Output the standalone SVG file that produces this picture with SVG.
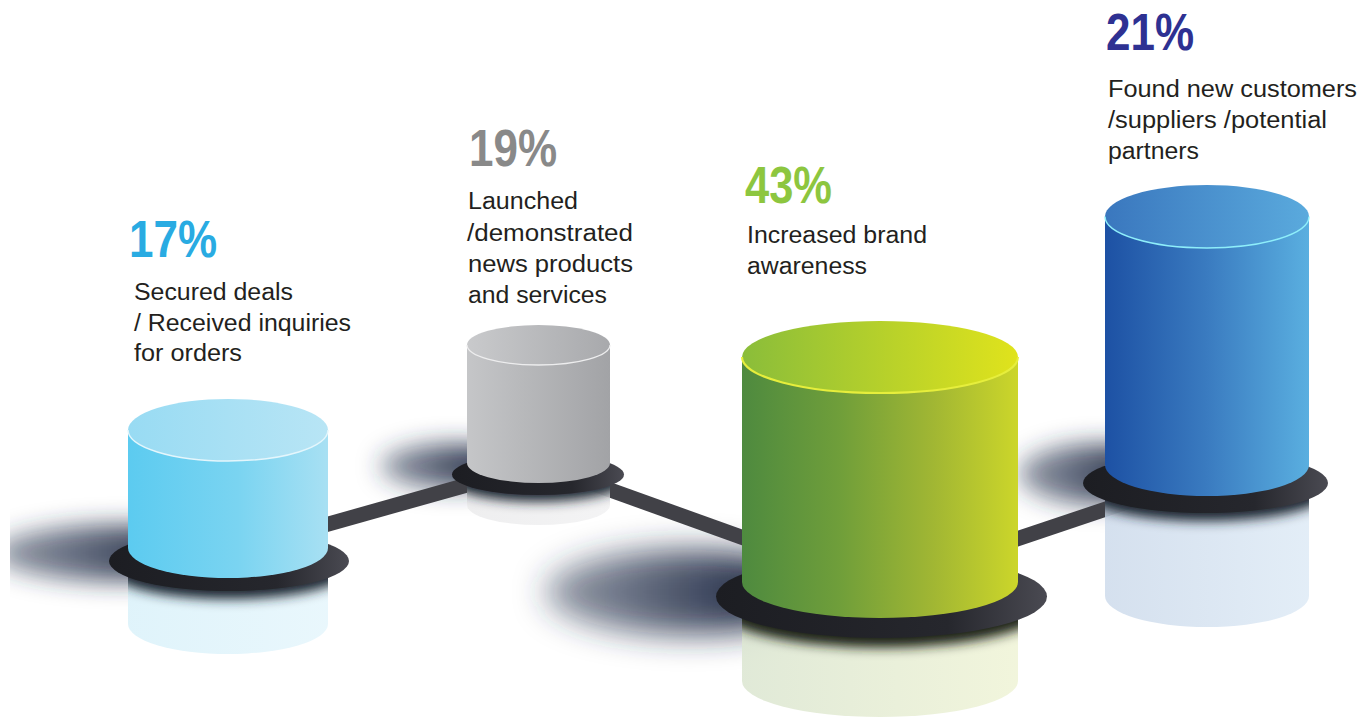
<svg xmlns="http://www.w3.org/2000/svg" width="1363" height="718" viewBox="0 0 1363 718">
<style>
.pct{font-family:"Liberation Sans",Arial,sans-serif;font-weight:bold;font-size:51px}
.lbl{font-family:"Liberation Sans",Arial,sans-serif;font-size:23.5px;fill:#231f20}
.conn{stroke:#414147;stroke-width:15;stroke-linecap:butt;fill:none}
.shadow{fill:url(#shGrad)}
</style>
<defs>
<filter id="blur12" x="-60%" y="-150%" width="220%" height="400%"><feGaussianBlur stdDeviation="12"/></filter>
<filter id="blur16" x="-60%" y="-150%" width="220%" height="400%"><feGaussianBlur stdDeviation="16"/></filter>
<filter id="blur6" x="-30%" y="-100%" width="160%" height="300%"><feGaussianBlur stdDeviation="6"/></filter>
<linearGradient id="shGrad" x1="0" y1="0" x2="1" y2="0">
<stop offset="0" stop-color="#2a3550" stop-opacity="0.5"/>
<stop offset="0.7" stop-color="#1f2942" stop-opacity="0.92"/>
<stop offset="1" stop-color="#1a2238" stop-opacity="1"/>
</linearGradient>
<linearGradient id="baseGrad" x1="0" y1="0" x2="1" y2="0">
<stop offset="0" stop-color="#1c1d22"/>
<stop offset="0.7" stop-color="#26272d"/>
<stop offset="1" stop-color="#4a4a52"/>
</linearGradient>
<linearGradient id="cyBody" x1="0" y1="0" x2="1" y2="0">
<stop offset="0" stop-color="#5ccbf0"/><stop offset="0.55" stop-color="#7ad4f1"/><stop offset="1" stop-color="#a8e0f3"/>
</linearGradient>
<linearGradient id="cyTop" x1="0" y1="0" x2="1" y2="0">
<stop offset="0" stop-color="#98dbf3"/><stop offset="1" stop-color="#b8e5f5"/>
</linearGradient>
<linearGradient id="cyRef" x1="0" y1="0" x2="1" y2="0">
<stop offset="0" stop-color="#dbf2fa"/><stop offset="1" stop-color="#e6f6fc"/>
</linearGradient>
<linearGradient id="grBody" x1="0" y1="0" x2="1" y2="0">
<stop offset="0" stop-color="#c5c6c8"/><stop offset="1" stop-color="#a2a3a6"/>
</linearGradient>
<linearGradient id="grTop" x1="0" y1="0" x2="1" y2="0">
<stop offset="0" stop-color="#c9cacc"/><stop offset="1" stop-color="#a8a9ac"/>
</linearGradient>
<linearGradient id="grRef" x1="0" y1="0" x2="1" y2="0">
<stop offset="0" stop-color="#ececed"/><stop offset="1" stop-color="#f2f2f3"/>
</linearGradient>
<linearGradient id="gnBody" x1="0" y1="0" x2="1" y2="0">
<stop offset="0" stop-color="#4e8a3f"/><stop offset="0.35" stop-color="#6f9e3a"/><stop offset="0.7" stop-color="#a2b733"/><stop offset="1" stop-color="#ccd62a"/>
</linearGradient>
<linearGradient id="gnTop" x1="0" y1="0" x2="1" y2="0">
<stop offset="0" stop-color="#8abd3a"/><stop offset="1" stop-color="#e0e31c"/>
</linearGradient>
<linearGradient id="gnRef" x1="0" y1="0" x2="1" y2="0">
<stop offset="0" stop-color="#dde7d3"/><stop offset="1" stop-color="#f0f4d8"/>
</linearGradient>
<linearGradient id="blBody" x1="0" y1="0" x2="1" y2="0">
<stop offset="0" stop-color="#1d51a4"/><stop offset="0.5" stop-color="#3a7bc0"/><stop offset="1" stop-color="#5aafe0"/>
</linearGradient>
<linearGradient id="blTop" x1="0" y1="0" x2="1" y2="0">
<stop offset="0" stop-color="#3a77be"/><stop offset="1" stop-color="#5aaadd"/>
</linearGradient>
<linearGradient id="blRef" x1="0" y1="0" x2="1" y2="0">
<stop offset="0" stop-color="#cfdcec"/><stop offset="1" stop-color="#dfebf6"/>
</linearGradient>
<clipPath id="clipLeft"><rect x="10" y="0" width="1353" height="718"/></clipPath>
<clipPath id="col1"><path d="M128,548 L128,624 A100,30 0 0 0 328,624 L328,548 Z"/></clipPath>
<clipPath id="col2"><path d="M467,463 L467,505 A71.5,20 0 0 0 610,505 L610,463 Z"/></clipPath>
<clipPath id="col3"><path d="M742,582 L742,681 A138,36 0 0 0 1018,681 L1018,582 Z"/></clipPath>
<clipPath id="col4"><path d="M1105,465 L1105,596 A102,31 0 0 0 1309,596 L1309,465 Z"/></clipPath>
</defs>

<g id="shadows">
<ellipse class="shadow" cx="118" cy="553" rx="125" ry="28" filter="url(#blur12)" clip-path="url(#clipLeft)"/>
<ellipse class="shadow" cx="452" cy="466" rx="72" ry="22" filter="url(#blur12)"/>
<ellipse class="shadow" cx="685" cy="592" rx="140" ry="42" filter="url(#blur16)"/>
<ellipse class="shadow" cx="1100" cy="474" rx="82" ry="30" filter="url(#blur12)"/>
</g>

<g id="connectors">
<line class="conn" x1="229" y1="552" x2="538" y2="465"/>
<line class="conn" x1="538" y1="464" x2="880" y2="587"/>
<line class="conn" x1="880" y1="585" x2="1207" y2="475"/>
</g>

<g id="node-17">
<path d="M128,548 L128,624 A100,30 0 0 0 328,624 L328,548 Z" fill="url(#cyRef)" opacity="0.88"/>
<g clip-path="url(#col1)"><ellipse cx="229" cy="569" rx="120" ry="30" fill="#1e2530" filter="url(#blur6)"/></g>
<ellipse cx="229" cy="561" rx="120" ry="30" fill="url(#baseGrad)"/>
<path d="M128,430 L128,548 A100,30 0 0 0 328,548 L328,430 Z" fill="url(#cyBody)"/>
<ellipse cx="228" cy="430" rx="100" ry="31" fill="url(#cyTop)"/>
<path d="M128,430 A100,31 0 0 0 328,430" fill="none" stroke="#e4f6fc" stroke-width="1.5"/>
<text class="pct" x="129" y="257" fill="#29abe2" textLength="88" lengthAdjust="spacingAndGlyphs">17%</text>
<text class="lbl" x="134" y="300" textLength="159" lengthAdjust="spacingAndGlyphs">Secured deals</text>
<text class="lbl" x="134" y="331" textLength="217" lengthAdjust="spacingAndGlyphs">/ Received inquiries</text>
<text class="lbl" x="134" y="361" textLength="108" lengthAdjust="spacingAndGlyphs">for orders</text>
</g>

<g id="node-19">
<path d="M467,463 L467,505 A71.5,20 0 0 0 610,505 L610,463 Z" fill="url(#grRef)" opacity="0.88"/>
<g clip-path="url(#col2)"><ellipse cx="538" cy="481" rx="86" ry="20.5" fill="#1e2530" filter="url(#blur6)"/></g>
<ellipse cx="538" cy="474.5" rx="86" ry="20.5" fill="url(#baseGrad)"/>
<path d="M467,345 L467,463 A71.5,20 0 0 0 610,463 L610,345 Z" fill="url(#grBody)"/>
<ellipse cx="538.5" cy="345" rx="71.5" ry="20" fill="url(#grTop)"/>
<path d="M467,345 A71.5,20 0 0 0 610,345" fill="none" stroke="#ededee" stroke-width="1.3"/>
<text class="pct" x="469" y="166" fill="#898989" textLength="88" lengthAdjust="spacingAndGlyphs">19%</text>
<text class="lbl" x="468" y="209" textLength="110" lengthAdjust="spacingAndGlyphs">Launched</text>
<text class="lbl" x="467" y="241" textLength="166" lengthAdjust="spacingAndGlyphs">/demonstrated</text>
<text class="lbl" x="468" y="272" textLength="165" lengthAdjust="spacingAndGlyphs">news products</text>
<text class="lbl" x="468" y="303" textLength="139" lengthAdjust="spacingAndGlyphs">and services</text>
</g>

<g id="node-43">
<path d="M742,582 L742,681 A138,36 0 0 0 1018,681 L1018,582 Z" fill="url(#gnRef)" opacity="0.9"/>
<g clip-path="url(#col3)"><ellipse cx="881.5" cy="606" rx="165.5" ry="41.5" fill="#1e2318" filter="url(#blur6)"/></g>
<ellipse cx="881.5" cy="596.5" rx="165.5" ry="41.5" fill="url(#baseGrad)"/>
<path d="M742,357 L742,582 A138,36 0 0 0 1018,582 L1018,357 Z" fill="url(#gnBody)"/>
<ellipse cx="880" cy="357" rx="138" ry="36" fill="url(#gnTop)"/>
<path d="M742,357 A138,36 0 0 0 1018,357" fill="none" stroke="#e6ee3c" stroke-width="2"/>
<text class="pct" x="745" y="203" fill="#8dc63f" textLength="87" lengthAdjust="spacingAndGlyphs">43%</text>
<text class="lbl" x="747" y="243" textLength="180" lengthAdjust="spacingAndGlyphs">Increased brand</text>
<text class="lbl" x="747" y="274" textLength="120" lengthAdjust="spacingAndGlyphs">awareness</text>
</g>

<g id="node-21">
<path d="M1105,465 L1105,596 A102,31 0 0 0 1309,596 L1309,465 Z" fill="url(#blRef)" opacity="0.88"/>
<g clip-path="url(#col4)"><ellipse cx="1205.5" cy="491" rx="122.5" ry="30" fill="#1e2530" filter="url(#blur6)"/></g>
<ellipse cx="1205.5" cy="483" rx="122.5" ry="30" fill="url(#baseGrad)"/>
<path d="M1105,216.5 L1105,465 A102,31 0 0 0 1309,465 L1309,216.5 Z" fill="url(#blBody)"/>
<ellipse cx="1207" cy="216.5" rx="102" ry="31.5" fill="url(#blTop)"/>
<path d="M1105,216.5 A102,31.5 0 0 0 1309,216.5" fill="none" stroke="#8eeefa" stroke-width="1.5"/>
<text class="pct" x="1106" y="50" fill="#2e3192" textLength="88" lengthAdjust="spacingAndGlyphs">21%</text>
<text class="lbl" x="1108" y="97" textLength="249" lengthAdjust="spacingAndGlyphs">Found new customers</text>
<text class="lbl" x="1108" y="128" textLength="219" lengthAdjust="spacingAndGlyphs">/suppliers /potential</text>
<text class="lbl" x="1108" y="159" textLength="91" lengthAdjust="spacingAndGlyphs">partners</text>
</g>
</svg>
